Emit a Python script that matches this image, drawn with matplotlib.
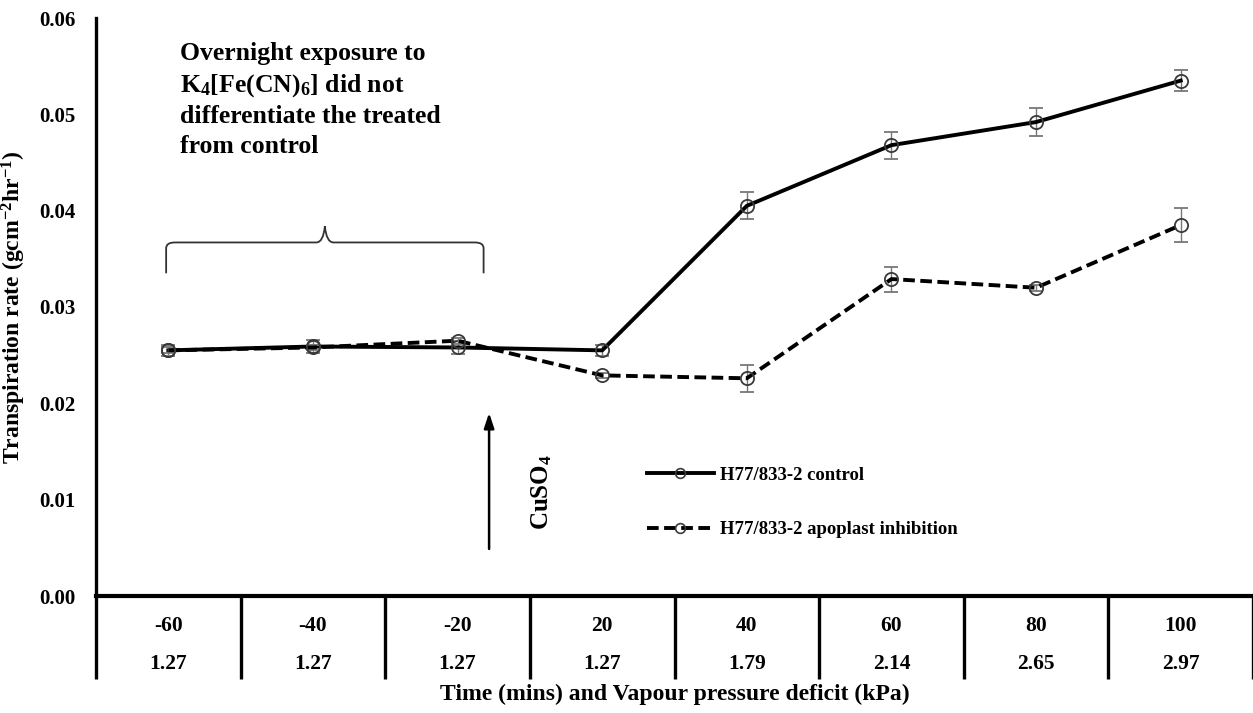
import matplotlib
matplotlib.use("Agg")
import matplotlib.pyplot as plt
import matplotlib.transforms as mtransforms
from matplotlib.path import Path
from matplotlib.patches import PathPatch
from matplotlib.lines import Line2D

plt.rcParams['font.family'] = ['Liberation Serif', 'DejaVu Serif']
plt.rcParams['font.weight'] = 'bold'
plt.rcParams['axes.labelweight'] = 'bold'
plt.rcParams['mathtext.fontset'] = 'custom'
plt.rcParams['mathtext.rm'] = 'Liberation Serif:bold'
plt.rcParams['mathtext.it'] = 'Liberation Serif:bold:italic'
plt.rcParams['mathtext.bf'] = 'Liberation Serif:bold'

# data
time_labels = ["-60", "-40", "-20", "20", "40", "60", "80", "100"]
vpd_labels = ["1.27", "1.27", "1.27", "1.27", "1.79", "2.14", "2.65", "2.97"]
control = [0.0255, 0.0259, 0.0258, 0.0255, 0.0405, 0.0468, 0.0492, 0.0535]
control_err = [0.0006, 0.0007, 0.0007, 0.0006, 0.0014, 0.0014, 0.0015, 0.0011]
inhib = [0.0255, 0.0258, 0.0265, 0.0229, 0.0226, 0.0329, 0.0320, 0.0385]
inhib_err = [0.0003, 0.0003, 0.0003, 0.0003, 0.0014, 0.0013, 0.0003, 0.0018]

x = list(range(len(time_labels)))

fig = plt.figure(figsize=(12.53, 7.13), dpi=100)
ax = fig.add_axes([96 / 1253, 1 - 596 / 713, 1 - 96 / 1253, (596 - 18) / 713])

ax.errorbar(x, control, yerr=control_err, color="black", lw=2.8,
            marker="o", ms=9.5, mfc="none", mec="#3a3a3a", mew=1.3,
            ecolor="#777777", elinewidth=1, capsize=5, capthick=1, zorder=3)
ax.errorbar(x, inhib, yerr=inhib_err, color="black", lw=2.8, ls=(0, (3, 1.4)),
            marker="o", ms=9.5, mfc="none", mec="#3a3a3a", mew=1.3,
            ecolor="#777777", elinewidth=1, capsize=5, capthick=1, zorder=4)

ax.set_xlim(-0.5, len(x) - 0.5)
ax.set_ylim(0, 0.06)
ax.set_yticks([0, 0.01, 0.02, 0.03, 0.04, 0.05, 0.06])
ax.set_yticklabels(["0.00", "0.01", "0.02", "0.03", "0.04", "0.05", "0.06"])
ax.tick_params(axis="y", length=0, pad=15, labelsize=15)
ax.tick_params(axis="x", length=0, labelbottom=False)
for s in ["top", "right"]:
    ax.spines[s].set_visible(False)
ax.spines["left"].set_linewidth(2.4)
ax.spines["bottom"].set_linewidth(3)

ax.set_ylabel("Transpiration rate (gcm$^{-2}$hr$^{-1}$)", fontsize=17,
              fontweight="bold", labelpad=8)

# table under the x axis
trans = mtransforms.blended_transform_factory(ax.transData, ax.transAxes)
for b in [i - 0.5 for i in range(len(x) + 1)]:
    ax.plot([b, b], [0, -0.143], transform=trans, color="black", lw=2.4,
            clip_on=False, solid_capstyle="butt")
for i in x:
    ax.text(i, -0.052, time_labels[i], transform=trans, ha="center",
            va="center", fontsize=15.5)
    ax.text(i, -0.118, vpd_labels[i], transform=trans, ha="center",
            va="center", fontsize=15.5)
ax.text(3.5, -0.171, "Time (mins) and Vapour pressure deficit (kPa)",
        transform=trans, ha="center", va="center", fontsize=17)

# annotation text
ax.text(0.08, 0.0575,
        "Overnight exposure to\nK$_4$[Fe(CN)$_6$] did not\n"
        "differentiate the treated\nfrom control",
        ha="left", va="top", fontsize=18.5, linespacing=1.36)

# curly brace
x0, x1 = -0.015, 2.18
xm = (x0 + x1) / 2
ye, yh, yt = 0.0335, 0.0367, 0.0384
dx = 0.06
verts = [(x0, ye), (x0, yh - 0.0006), (x0, yh), (x0 + dx, yh),
         (xm - dx, yh), (xm - 0.01, yh), (xm, yt),
         (xm + 0.01, yh), (xm + dx, yh),
         (x1 - dx, yh), (x1, yh), (x1, yh - 0.0006), (x1, ye)]
codes = [Path.MOVETO, Path.LINETO, Path.CURVE3, Path.CURVE3,
         Path.LINETO, Path.CURVE3, Path.CURVE3,
         Path.CURVE3, Path.CURVE3,
         Path.LINETO, Path.CURVE3, Path.CURVE3, Path.LINETO]
ax.add_patch(PathPatch(Path(verts, codes), fill=False, color="#333333", lw=1.3))

# CuSO4 arrow
ax.annotate("", xy=(2.218, 0.0193), xytext=(2.218, 0.0046),
            arrowprops=dict(arrowstyle="-|>,head_width=0.3,head_length=0.9",
                            color="black", lw=1.8))
ax.text(2.58, 0.0108, "CuSO$_4$", rotation=90, ha="center", va="center",
        fontsize=18)

handles = [
    Line2D([], [], color="black", lw=2.8, marker="o", ms=7, mfc="none",
           mec="#3a3a3a", mew=1.2),
    Line2D([], [], color="black", lw=2.8, ls=(0, (3, 1.4)), marker="o", ms=7,
           mfc="none", mec="#3a3a3a", mew=1.2),
]
ax.legend(handles, ["H77/833-2 control", "H77/833-2 apoplast inhibition"],
          loc="upper left", bbox_to_anchor=(0.476, 0.224), frameon=False,
          borderpad=0, borderaxespad=0, handlelength=3.6, handletextpad=0.3,
          labelspacing=2.0, prop={"size": 13.5, "weight": "bold"})

fig.savefig("out.png", dpi=100)
